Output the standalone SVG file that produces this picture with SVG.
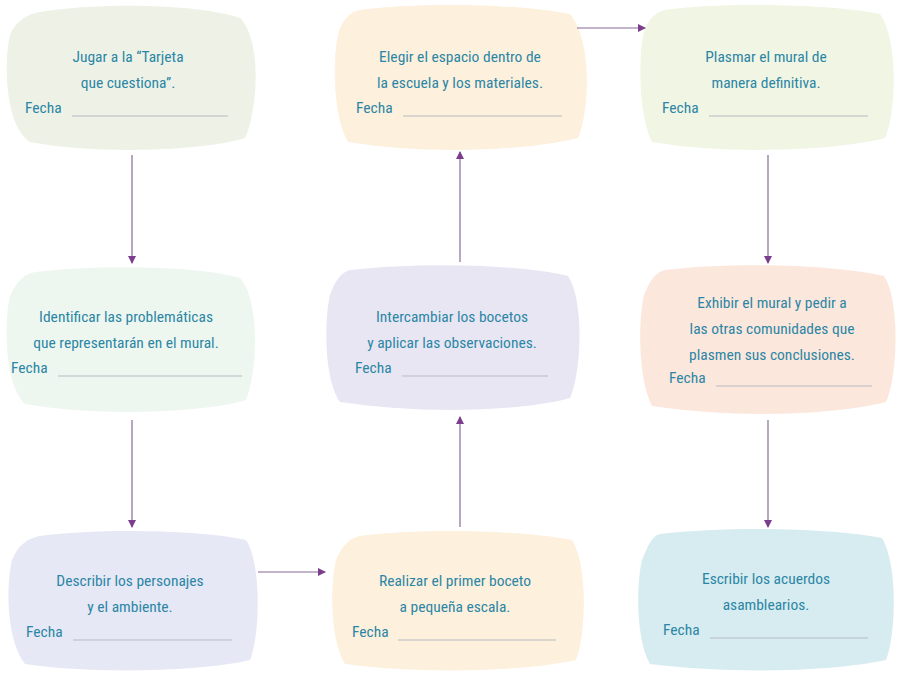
<svg xmlns="http://www.w3.org/2000/svg" width="900" height="675" viewBox="0 0 900 675">
<defs>
<marker id="ah" markerWidth="8" markerHeight="8" refX="7" refY="4" orient="auto" markerUnits="userSpaceOnUse"><path d="M0,0 L8,4 L0,8 Z" fill="#7b3d8c"/></marker>
</defs>
<style>
text{font-family:Roboto,"Liberation Sans",sans-serif;font-size:15.5px;fill:#2b86a6;font-stretch:condensed}
.c{text-anchor:middle}
.ln{stroke:#b9b9c3;stroke-width:1}
.cn{stroke:#8a6a98;stroke-width:1.2;fill:none;marker-end:url(#ah)}
</style>
<rect width="900" height="675" fill="#fff"/>
<g id="n1"><path d="M40,12 C100,2 200,4 240,18 C262,40 258,110 245,138 C200,152 90,154 30,142 C4,125 4,60 10,35 C16,20 28,14 40,12Z" fill="#eef2e6"/>
<text class="c" x="128" y="62">Jugar a la “Tarjeta</text><text class="c" x="128" y="88">que cuestiona”.</text><text x="25" y="113">Fecha</text><line class="ln" x1="72" y1="116" x2="228" y2="116"/></g>
<g id="n2"><path d="M360,10 C420,2 520,4 570,14 C592,40 590,110 578,138 C520,152 420,154 348,142 C332,115 332,50 340,28 C345,18 350,12 360,10Z" fill="#fdf0dc"/>
<text class="c" x="460" y="62">Elegir el espacio dentro de</text><text class="c" x="460" y="88">la escuela y los materiales.</text><text x="356" y="113">Fecha</text><line class="ln" x1="403" y1="116" x2="562" y2="116"/></g>
<g id="n3"><path d="M665,10 C720,2 830,4 880,14 C898,40 897,110 885,138 C830,152 720,154 652,142 C638,115 638,50 645,28 C650,18 656,12 665,10Z" fill="#f1f5e3"/>
<text class="c" x="766" y="62">Plasmar el mural de</text><text class="c" x="766" y="88">manera definitiva.</text><text x="662" y="113">Fecha</text><line class="ln" x1="709" y1="116" x2="868" y2="116"/></g>
<g id="n4"><path d="M35,272 C100,264 200,266 240,278 C260,300 258,370 246,400 C200,414 90,416 25,404 C4,385 4,320 10,296 C16,282 24,274 35,272Z" fill="#eef7ef"/>
<text class="c" x="126" y="322">Identificar las problemáticas</text><text class="c" x="126" y="348">que representarán en el mural.</text><text x="11" y="373">Fecha</text><line class="ln" x1="58" y1="376" x2="242" y2="376"/></g>
<g id="n5"><path d="M350,270 C420,262 520,264 568,276 C584,300 582,370 570,398 C520,412 420,414 340,402 C324,380 324,320 330,295 C335,280 342,272 350,270Z" fill="#e9e6f3"/>
<text class="c" x="452" y="322">Intercambiar los bocetos</text><text class="c" x="452" y="348">y aplicar las observaciones.</text><text x="355" y="373">Fecha</text><line class="ln" x1="402" y1="376" x2="548" y2="376"/></g>
<g id="n6"><path d="M665,270 C730,262 830,264 884,276 C900,300 898,375 886,402 C830,416 730,418 652,406 C638,380 638,320 644,295 C650,280 656,272 665,270Z" fill="#fce7dc"/>
<text class="c" x="772" y="308">Exhibir el mural y pedir a</text><text class="c" x="772" y="334">las otras comunidades que</text><text class="c" x="772" y="360">plasmen sus conclusiones.</text><text x="669" y="383">Fecha</text><line class="ln" x1="716" y1="386" x2="872" y2="386"/></g>
<g id="n7"><path d="M40,536 C100,528 200,530 246,540 C262,565 260,635 250,660 C200,672 90,674 25,664 C6,640 6,585 12,560 C18,545 28,538 40,536Z" fill="#e6e8f5"/>
<text class="c" x="130" y="586">Describir los personajes</text><text class="c" x="130" y="612">y el ambiente.</text><text x="26" y="637">Fecha</text><line class="ln" x1="73" y1="640" x2="232" y2="640"/></g>
<g id="n8"><path d="M360,536 C420,528 520,530 572,540 C588,565 586,635 576,660 C520,672 420,674 345,664 C330,640 330,585 336,560 C342,545 350,538 360,536Z" fill="#fdf0dc"/>
<text class="c" x="455" y="586">Realizar el primer boceto</text><text class="c" x="455" y="612">a pequeña escala.</text><text x="352" y="637">Fecha</text><line class="ln" x1="398" y1="640" x2="556" y2="640"/></g>
<g id="n9"><path d="M660,534 C730,526 830,528 882,538 C898,565 896,635 886,660 C830,672 730,674 650,664 C636,640 636,585 642,560 C648,545 652,536 660,534Z" fill="#d7ecf0"/>
<text class="c" x="766" y="584">Escribir los acuerdos</text><text class="c" x="766" y="610">asamblearios.</text><text x="663" y="635">Fecha</text><line class="ln" x1="710" y1="638" x2="868" y2="638"/></g>
<g id="connectors">
<line class="cn" x1="132" y1="155" x2="132" y2="263"/>
<line class="cn" x1="132" y1="420" x2="132" y2="527"/>
<line class="cn" x1="258" y1="572" x2="325" y2="572"/>
<line class="cn" x1="460" y1="527" x2="460" y2="417"/>
<line class="cn" x1="460" y1="262" x2="460" y2="152"/>
<line class="cn" x1="577" y1="28" x2="645" y2="28"/>
<line class="cn" x1="768" y1="155" x2="768" y2="263"/>
<line class="cn" x1="768" y1="420" x2="768" y2="527"/>
</g>
</svg>
